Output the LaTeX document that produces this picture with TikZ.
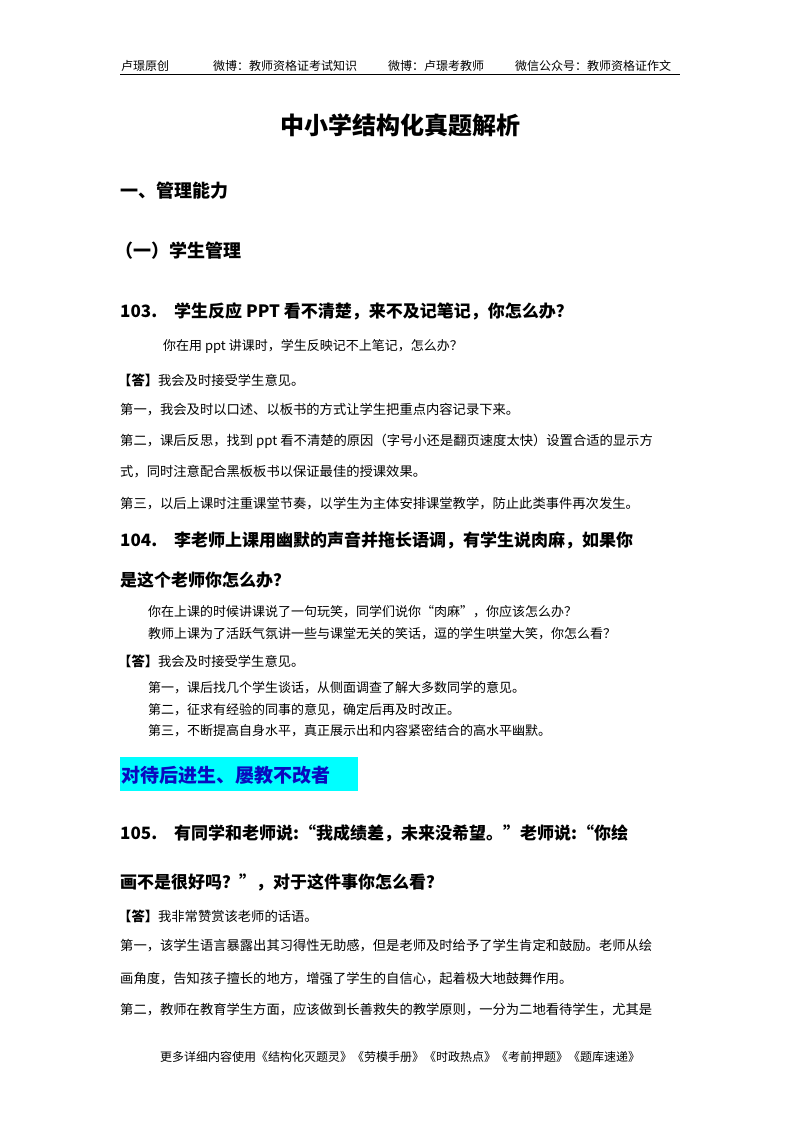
\documentclass[tikz,border=0pt]{standalone}
\usepackage{fontspec}
\setmainfont{Noto Sans CJK SC}
\definecolor{hlcyan}{RGB}{0,255,255}
\definecolor{hlblue}{RGB}{10,10,190}
\begin{document}
\begin{tikzpicture}[x=1pt,y=-1pt,
  every node/.style={inner sep=0pt,anchor=west},
  hd/.style={font=\fontsize{12}{12}\selectfont},
  body/.style={font=\fontsize{13.3}{14}\selectfont},
  sm/.style={font=\fontsize{13}{14}\selectfont},
  q/.style={font=\fontsize{17}{18}\selectfont\bfseries}]
\useasboundingbox (0,0) rectangle (800,1132);
\fill[white] (0,0) rectangle (800,1132);
\node[hd] (h1) at (121,66) {卢璟原创};
\node[hd] (h2) at (213,66) {微博：教师资格证考试知识};
\node[hd] (h3) at (388,66) {微博：卢璟考教师};
\node[hd] (h4) at (515,66) {微信公众号：教师资格证作文};
\draw[line width=1pt] (120,74) -- (680,74);
\node[anchor=center,font=\fontsize{24}{26}\selectfont\bfseries] (t) at (400,125) {中小学结构化真题解析};
\node[font=\fontsize{18}{20}\selectfont\bfseries] (s1) at (120,191) {一、管理能力};
\node[font=\fontsize{18}{20}\selectfont\bfseries] (s2) at (115,251) {（一）学生管理};
\node[q] (q103) at (120,311) {103.\quad 学生反应 PPT 看不清楚，来不及记笔记，你怎么办？};
\node[sm] (a1) at (163,346) {你在用 ppt 讲课时，学生反映记不上笔记，怎么办？};
\node[body] (a2) at (118,380) {\textbf{【答】}我会及时接受学生意见。};
\node[body] (a3) at (120,410) {第一，我会及时以口述、以板书的方式让学生把重点内容记录下来。};
\node[body] (a4) at (120,441) {第二，课后反思，找到 ppt 看不清楚的原因（字号小还是翻页速度太快）设置合适的显示方};
\node[body] (a5) at (120,472) {式，同时注意配合黑板板书以保证最佳的授课效果。};
\node[body] (a6) at (120,504) {第三，以后上课时注重课堂节奏，以学生为主体安排课堂教学，防止此类事件再次发生。};
\node[q] (q104) at (120,540) {104.\quad 李老师上课用幽默的声音并拖长语调，有学生说肉麻，如果你};
\node[q] (q104b) at (120,580) {是这个老师你怎么办？};
\node[sm] (b1) at (148,612) {你在上课的时候讲课说了一句玩笑，同学们说你“肉麻”，你应该怎么办？};
\node[sm] (b2) at (148,634) {教师上课为了活跃气氛讲一些与课堂无关的笑话，逗的学生哄堂大笑，你怎么看？};
\node[body] (b3) at (118,661) {\textbf{【答】}我会及时接受学生意见。};
\node[sm] (b4) at (148,688) {第一，课后找几个学生谈话，从侧面调查了解大多数同学的意见。};
\node[sm] (b5) at (148,710) {第二，征求有经验的同事的意见，确定后再及时改正。};
\node[sm] (b6) at (148,731) {第三，不断提高自身水平，真正展示出和内容紧密结合的高水平幽默。};
\fill[hlcyan] (120,757) rectangle (358,791);
\node[font=\fontsize{19}{20}\selectfont\bfseries,text=hlblue] (hl) at (121,775) {对待后进生、屡教不改者};
\node[q] (q105) at (120,833) {105.\quad 有同学和老师说:“我成绩差，未来没希望。”老师说:“你绘};
\node[q] (q105b) at (120,882) {画不是很好吗？”，对于这件事你怎么看？};
\node[body] (c1) at (118,916) {\textbf{【答】}我非常赞赏该老师的话语。};
\node[body] (c2) at (120,946) {第一，该学生语言暴露出其习得性无助感，但是老师及时给予了学生肯定和鼓励。老师从绘};
\node[body] (c3) at (120,979) {画角度，告知孩子擅长的地方，增强了学生的自信心，起着极大地鼓舞作用。};
\node[body] (c4) at (120,1010) {第二，教师在教育学生方面，应该做到长善救失的教学原则，一分为二地看待学生，尤其是};
\node[anchor=center,font=\fontsize{12}{12}\selectfont] (f) at (400,1057) {更多详细内容使用《结构化灭题灵》《劳模手册》《时政热点》《考前押题》《题库速递》};
\end{tikzpicture}
\end{document}
